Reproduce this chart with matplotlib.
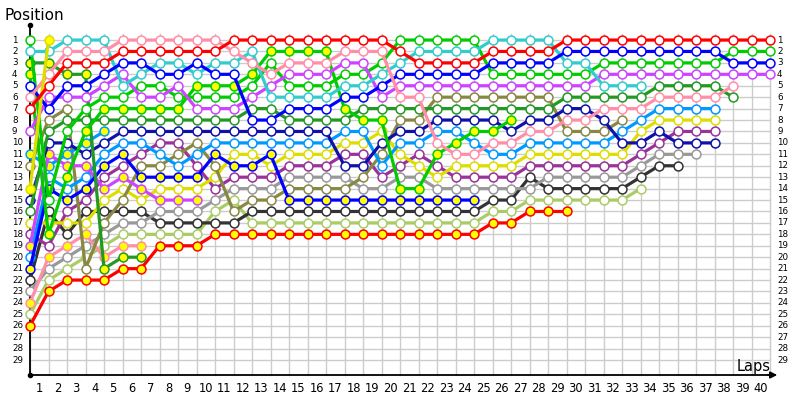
import numpy as np
import matplotlib
matplotlib.use("Agg")
import matplotlib.pyplot as plt

# ---------------- data ----------------
laps = list(range(0, 41))
positions = list(range(1, 30))
lap_labels = [str(i) for i in range(1, 41)]

red      = [7,5,3,3,3,2,2,2,2,2,2,1,1,1,1,1,1,1,1,1,2,3,3,3,3,2,2,2,2,1,1,1,1,1,1,1,1,1,1,1,1]
pink     = [6,4,2,2,2,1,1,1,1,1,1,2,3,4,3,3,3,2,2,2,6,6,10,11,11,10,10,9,9,8,8,7,7,7,6,6,6,6,5]
cyan     = [2,2,1,1,1,5,4,3,3,4,3,3,2,6,6,6,6,5,5,4,3,2,2,2,2,1,1,1,1,3,3,5,5,5]
green    = [1,15,9,7,6,6,5,5,6,6,6,6,5,3,5,5,5,4,4,3,1,1,1,1,1,4,4,4,4,4,4,3,3,3,3,3,3,3,2,2,2]
green_y  = [4,18,13,9,7,7,7,7,7,5,5,5,4,2,2,2,2,7,8,8,14,14,11,10,9,9,8]
dkgreen  = [16,9,8,8,8,8,8,8,8,8,8,8,7,7,8,8,8,8,7,7,7,7,7,7,7,7,7,7,7,6,6,6,6,6,5,5,5,5,6]
dkgreen_y = [3,3,4,4,21,20,20]
blue     = [5,7,5,5,4,3,3,4,4,3,4,4,8,8,7,7,7,6,6,5,4,4,4,4,4,3,3,3,3,2,2,2,2,2,2,2,2,2,3,3,3]
blue_y   = [21,14,15,14,12,11,13,13,13,13,11,12,12,11,15,15,15,15,15,15,15,15,15,15,15]
dkblue   = [15,10,10,11,10,9,9,9,9,9,9,9,9,9,9,9,9,12,12,10,9,9,8,8,8,8,9,8,8,7,7,8,10,10,9,10,10,10]
violet   = [9,6,6,6,5,4,6,6,5,7,7,7,6,5,4,4,4,3,3,6,5,5,5,5,5,5,5,5,5,5,5,4,4,4,4,4,4,4,4,4,4]
violet_y = [19,11,12,12,14,13,14,15,15,15]
ltblue   = [20,13,14,13,11,10,10,11,12,11,10,10,10,10,10,10,10,9,9,12,10,10,9,9,10,11,11,10,10,10,10,10,9,8,7,7,7,7]
ltblue_y = [11,12,11,10,9]
yellow   = [17,17,17,17,15,14,15,14,14,14,13,11,11,12,11,11,11,10,10,9,11,12,13,12,12,12,12,11,11,11,11,11,11,9,8,8,8,8]
yellow_y = [14,1]
purple   = [18,19,16,15,13,12,11,10,10,12,14,13,13,13,12,12,12,11,11,13,12,11,12,13,13,13,13,12,12,12,12,12,12,11,10,9,9,9]
olive    = [12,8,7,21,17,15,12,12,11,10,12,16,15,15,14,14,14,14,13,11,8,8,6,6,6,6,6,6,6,9,9,9,8]
gray     = [23,21,20,19,18,17,17,16,16,16,15,14,14,14,13,13,13,13,14,14,13,13,14,14,14,14,14,14,13,13,13,13,13,12,11,11,11]
dkgray   = [22,16,18,16,16,16,16,17,17,17,17,17,16,16,16,16,16,16,16,16,16,16,16,16,16,15,15,13,14,14,14,14,14,13,12,12]
ltgreen  = [25,22,21,20,19,18,18,18,18,18,16,15,17,17,17,17,17,17,17,17,17,17,17,17,17,16,16,15,15,15,15,15,15,14]
red_y    = [26,23,22,22,22,21,21,19,19,19,18,18,18,18,18,18,18,18,18,18,18,18,18,18,18,17,17,16,16,16]
pink_y   = [24,20,19,18,20,19,19]

# (values, line colour, marker fill)
W, Y = "white", "#ffff00"
series = [
    (ltgreen,  "#aacc66", W),
    (red_y,    "#ff0000", Y),
    (dkgray,   "#333333", W),
    (gray,     "#999999", W),
    (pink_y,   "#ff8fa8", Y),
    (purple,   "#993399", W),
    (yellow,   "#dddd00", W),
    (olive,    "#888844", W),
    (ltblue_y, "#0099ff", Y),
    (ltblue,   "#0099ff", W),
    (violet_y, "#cc44ff", Y),
    (blue_y,   "#0000ff", Y),
    (dkblue,   "#1111aa", W),
    (dkgreen_y,"#229922", Y),
    (dkgreen,  "#229922", W),
    (green_y,  "#00cc00", Y),
    (green,    "#00cc00", W),
    (violet,   "#cc44ff", W),
    (cyan,     "#33cccc", W),
    (blue,     "#0000ff", W),
    (pink,     "#ff8fa8", W),
    (yellow_y, "#dddd00", Y),
    (red,      "#ff0000", W),
]

# ---------------- figure ----------------
fig = plt.figure(figsize=(8, 4), dpi=100)
ax = fig.add_axes([0, 0, 1, 1])
# pixel mapping: x = 30 + 18.5*lap ; y = 28.6 + 11.43*pos
sx, ox = 18.5, 30.0
sy, oy = 11.43, 28.6
ax.set_xlim((0 - ox) / sx, (800 - ox) / sx)
ax.set_ylim((400 - oy) / sy, (0 - oy) / sy)
ax.axis("off")

def px2lap(px):
    return (px - ox) / sx

def py2pos(py):
    return (py - oy) / sy

# grid
top_pos = py2pos(34)
bot_pos = py2pos(375)
for lp in laps:
    ax.plot([lp, lp], [top_pos, bot_pos], color="#cccccc", lw=1.0, zorder=1)
for p in positions:
    ax.plot([laps[0], laps[-1]], [p, p], color="#cccccc", lw=1.0, zorder=1)

# axes lines
ax.plot([0, 0], [py2pos(25), bot_pos], color="black", lw=1.3, zorder=2)
ax.plot([0, px2lap(772)], [bot_pos, bot_pos], color="black", lw=1.3, zorder=2)
ax.annotate("", xy=(px2lap(780), bot_pos), xytext=(px2lap(765), bot_pos),
            arrowprops=dict(arrowstyle="-|>", color="black", lw=1.2,
                            mutation_scale=10), zorder=2)
ax.plot([0], [py2pos(25)], marker="o", ms=3, color="black", zorder=2)
ax.plot([0], [bot_pos], marker="o", ms=3, color="black", zorder=2)

# series
for vals, col, fill in series:
    xs = laps[:len(vals)]
    ax.plot(xs, vals, color=col, lw=2.3, zorder=3, solid_capstyle="round",
            marker="o", ms=6.4, mfc=fill, mec=col, mew=1.1)

# labels
for p in positions:
    ax.text(px2lap(12), p, str(p), fontsize=6.3, ha="left", va="center",
            family="DejaVu Sans")
    ax.text(px2lap(777), p, str(p), fontsize=6.3, ha="left", va="center",
            family="DejaVu Sans")
for i, lab in enumerate(lap_labels, start=1):
    ax.text(i - 0.5, py2pos(388), lab, fontsize=8.3, ha="center", va="center",
            family="DejaVu Sans")

ax.text(px2lap(4), py2pos(15), "Position", fontsize=11, ha="left", va="center")
ax.text(px2lap(771), py2pos(366), "Laps", fontsize=10.5, ha="right", va="center")

fig.savefig("out.png", dpi=100)
